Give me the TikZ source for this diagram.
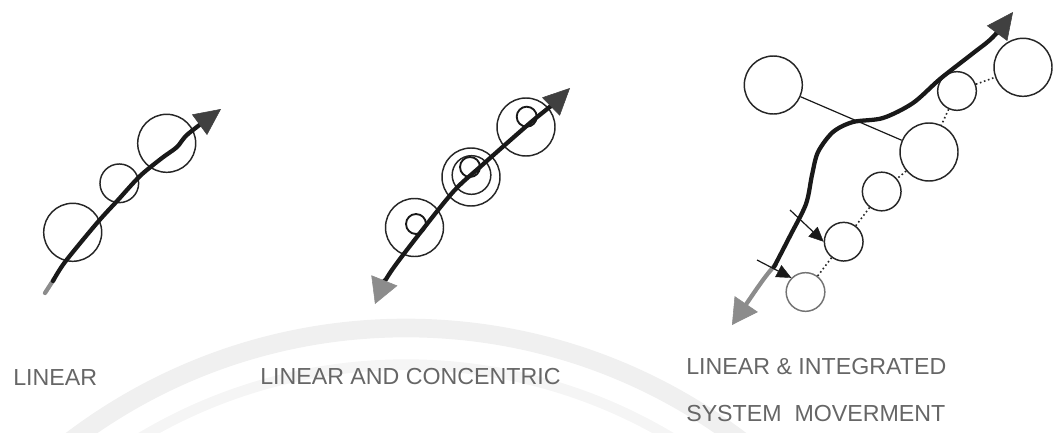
\documentclass[tikz,border=0pt]{standalone}
\usepackage{fontspec}
\setmainfont{Liberation Sans}
\usetikzlibrary{arrows.meta}
\begin{document}
\begin{tikzpicture}[x=0.75pt,y=-0.75pt,
  bigc/.style={circle,draw=black!85,line width=1.1pt,minimum size=43.5pt,inner sep=0pt},
  midc/.style={circle,draw=black!85,line width=1.1pt,minimum size=29pt,inner sep=0pt},
  loopc/.style={circle,draw=black!90,line width=1.4pt,minimum size=15pt,inner sep=0pt},
  mainline/.style={line width=3.2pt,draw=black!90,line cap=round,line join=round},
  greyline/.style={line width=3.2pt,draw=black!45,line cap=round,line join=round},
  thinline/.style={line width=0.9pt,draw=black!90},
  dotline/.style={line width=1.2pt,draw=black!85,dotted},
  lbl/.style={inner sep=0pt,text=black!60,font=\fontsize{17.4pt}{20pt}\selectfont},
  darkhead/.tip={Triangle[length=20pt,width=19pt,line width=0.4pt,color=black!75]},
  greyhead/.tip={Triangle[length=19pt,width=21pt,line width=0.4pt,color=black!45]},
  smallhead/.tip={Triangle[length=11pt,width=10pt,line width=0.3pt,color=black!90]}]
\useasboundingbox (0,0) rectangle (1056,432);
% faint watermark rings
\begin{scope}
\clip (0,0) rectangle (1056,432);
\draw[black!6,line width=14pt] (406,882) circle[radius=415.5pt];
\draw[black!4,line width=8pt] (406,882) circle[radius=388pt];
\end{scope}

% ---------- Panel 1: LINEAR ----------
\node[bigc] (a1) at (72.7,232.3) {};
\node[midc] (a2) at (119.3,183.3) {};
\node[bigc] (a3) at (166.7,143.3) {};
\draw[greyline] (45,293) -- (54,279);
\draw[mainline,-darkhead] plot[smooth,tension=0.5] coordinates {(53,281) (65,262) (97,223) (118,200) (140,176) (162,158) (177,147) (188,134) (221,109)};

% ---------- Panel 2: LINEAR AND CONCENTRIC ----------
\node[bigc] (b1) at (414.5,227.5) {};
\node[bigc] (b2) at (471,177) {};
\node[circle,draw=black!85,line width=1.1pt,minimum width=27pt,minimum height=29pt,inner sep=0pt] (b2i) at (471.5,175) {};
\node[bigc] (b3) at (526,127) {};
\node[loopc] (l1) at (416,224) {};
\node[loopc] (l2) at (470,167) {};
\node[loopc] (l3) at (526.7,116.7) {};
\draw[mainline,greyhead-darkhead] plot[smooth,tension=0.5] coordinates {(375,304) (388,276) (413,242) (453,192) (480,167) (530,123) (552,105) (570,88)};

% ---------- Panel 3: LINEAR & INTEGRATED SYSTEM MOVERMENT ----------
\node[bigc] (cA) at (773.3,85) {};
\node[bigc] (cB) at (929,152) {};
\node[midc] (cC) at (957,91) {};
\node[bigc] (cD) at (1023,67.3) {};
\node[midc] (cE) at (881.7,191.5) {};
\node[midc] (cF) at (843.7,241.7) {};
\node[midc,draw=black!55] (cG) at (805.5,292) {};
\draw[thinline] (cA) -- (cB);
\draw[dotline] (cC) -- (cD);
\draw[dotline] (cC) -- (cB);
\draw[dotline] (cB) -- (cE);
\draw[dotline] (cE) -- (cF);
\draw[dotline] (cF) -- (cG);
\draw[greyline,greyhead-] plot[smooth,tension=0.5] coordinates {(732,325) (763,280) (776,264)};
\draw[mainline,-darkhead] plot[smooth,tension=0.5] coordinates {(774,267) (790,236) (806,204) (812,175) (818,152) (833,132) (853,122) (883,118) (913,103) (940,79) (972,54) (993,37) (1013,12)};
\coordinate (s1) at (790,210);
\coordinate (s2) at (757,260);
\draw[thinline,-smallhead] (s1) -- (cF.west);
\draw[thinline,-smallhead] (s2) -- (cG.north west);

% ---------- Labels ----------
\node[lbl,anchor=base west] (t1) at (13,385) {LINEAR};
\node[lbl,anchor=base west] (t2) at (260,384) {LINEAR AND CONCENTRIC};
\node[lbl,anchor=base west] (t3) at (686,374) {LINEAR \& INTEGRATED};
\node[lbl,anchor=base west] (t4) at (686,421) {SYSTEM\ \ MOVERMENT};
\end{tikzpicture}
\end{document}
